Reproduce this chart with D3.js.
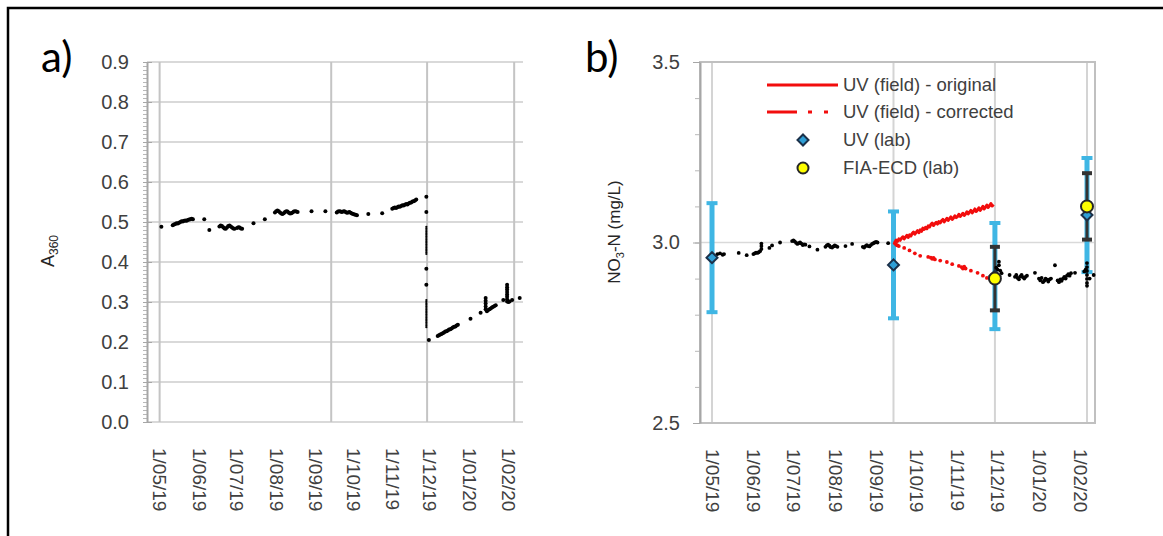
<!DOCTYPE html>
<html>
<head>
<meta charset="utf-8">
<script src="https://cdn.jsdelivr.net/npm/d3@7"></script>
<style>
body { margin: 0; background: #fff; }
text { font-family: "Liberation Sans", Arial, sans-serif; }
</style>
</head>
<body>
<svg width="1163" height="536"></svg>
<script>
// month ticks (same on both panels)
var monthTicks = ["2019-05-01","2019-06-01","2019-07-01","2019-08-01","2019-09-01",
  "2019-10-01","2019-11-01","2019-12-01","2020-01-01","2020-02-01"];
var samplingDates = ["2019-05-01","2019-09-14","2019-11-29","2020-02-06"];

// panel a: absorbance at 360 nm
var a360 = [
  ["2019-05-02",0.488],
  ["2019-05-11",0.492],["2019-05-12",0.494],["2019-05-13",0.495],["2019-05-14",0.497],["2019-05-15",0.496],
  ["2019-05-16",0.498],["2019-05-17",0.500],["2019-05-18",0.502],["2019-05-19",0.501],["2019-05-20",0.503],
  ["2019-05-21",0.504],["2019-05-22",0.503],["2019-05-23",0.505],["2019-05-24",0.506],["2019-05-25",0.507],
  ["2019-05-26",0.508],["2019-05-27",0.507],
  ["2019-06-05",0.507],["2019-06-09",0.480],
  ["2019-06-17",0.489],["2019-06-18",0.491],["2019-06-19",0.490],["2019-06-20",0.487],["2019-06-21",0.484],
  ["2019-06-22",0.483],["2019-06-23",0.486],["2019-06-24",0.490],["2019-06-25",0.491],["2019-06-26",0.489],
  ["2019-06-27",0.486],["2019-06-28",0.484],["2019-06-29",0.483],["2019-07-01",0.485],["2019-07-02",0.487],
  ["2019-07-03",0.486],["2019-07-04",0.484],["2019-07-05",0.483],
  ["2019-07-14",0.497],["2019-07-23",0.507],
  ["2019-07-31",0.524],["2019-08-01",0.527],["2019-08-02",0.529],["2019-08-03",0.527],["2019-08-04",0.524],
  ["2019-08-05",0.521],["2019-08-06",0.520],["2019-08-07",0.522],["2019-08-08",0.525],["2019-08-09",0.527],
  ["2019-08-10",0.526],["2019-08-11",0.523],["2019-08-12",0.521],["2019-08-13",0.522],["2019-08-14",0.524],
  ["2019-08-15",0.526],["2019-08-16",0.527],["2019-08-17",0.526],["2019-08-18",0.525],
  ["2019-08-29",0.527],["2019-09-09",0.527],
  ["2019-09-18",0.524],["2019-09-19",0.526],["2019-09-20",0.527],["2019-09-21",0.526],["2019-09-22",0.525],
  ["2019-09-23",0.526],["2019-09-24",0.527],["2019-09-25",0.525],["2019-09-26",0.523],["2019-09-27",0.524],
  ["2019-09-28",0.525],["2019-09-29",0.523],["2019-09-30",0.521],["2019-10-01",0.520],["2019-10-02",0.519],
  ["2019-10-03",0.518],["2019-10-04",0.517],
  ["2019-10-13",0.520],["2019-10-24",0.522],
  ["2019-11-01",0.533],["2019-11-02",0.535],["2019-11-03",0.536],["2019-11-04",0.535],["2019-11-05",0.537],
  ["2019-11-06",0.539],["2019-11-07",0.538],["2019-11-08",0.540],["2019-11-09",0.542],["2019-11-10",0.541],
  ["2019-11-11",0.543],["2019-11-12",0.545],["2019-11-13",0.544],["2019-11-14",0.546],["2019-11-15",0.548],
  ["2019-11-16",0.549],["2019-11-17",0.551],["2019-11-18",0.552],["2019-11-19",0.554],["2019-11-20",0.556],
  ["2019-11-28",0.563],["2019-11-28",0.525],["2019-11-28",0.383],["2019-11-28",0.343],
  ["2019-11-30",0.205],
  ["2019-12-07",0.215],["2019-12-08",0.217],["2019-12-09",0.219],["2019-12-10",0.220],["2019-12-11",0.222],
  ["2019-12-12",0.224],["2019-12-13",0.226],["2019-12-14",0.227],["2019-12-15",0.229],["2019-12-16",0.231],
  ["2019-12-17",0.232],["2019-12-18",0.234],["2019-12-19",0.236],["2019-12-20",0.238],["2019-12-21",0.239],
  ["2019-12-22",0.241],["2019-12-23",0.243],
  ["2020-01-02",0.258],["2020-01-10",0.273],
  ["2020-01-14",0.310],["2020-01-14",0.303],["2020-01-14",0.296],["2020-01-14",0.289],["2020-01-14",0.282],
  ["2020-01-15",0.277],["2020-01-16",0.280],["2020-01-17",0.282],["2020-01-18",0.284],["2020-01-19",0.286],
  ["2020-01-20",0.288],["2020-01-21",0.290],["2020-01-22",0.292],
  ["2020-01-28",0.305],
  ["2020-01-31",0.343],["2020-01-31",0.337],["2020-01-31",0.331],["2020-01-31",0.325],["2020-01-31",0.319],
  ["2020-01-31",0.313],["2020-01-31",0.307],["2020-01-31",0.301],["2020-02-01",0.300],["2020-02-02",0.301],
  ["2020-02-04",0.305],["2020-02-10",0.310]
];
// panel a: the fast step on 28 Nov (thin trace)
var a360Drop = [
  ["2019-11-28",0.488],["2019-11-28",0.484],["2019-11-28",0.480],["2019-11-28",0.476],["2019-11-28",0.472],
  ["2019-11-28",0.468],["2019-11-28",0.464],["2019-11-28",0.460],["2019-11-28",0.456],["2019-11-28",0.452],
  ["2019-11-28",0.448],["2019-11-28",0.444],["2019-11-28",0.440],["2019-11-28",0.436],["2019-11-28",0.432],
  ["2019-11-28",0.428],["2019-11-28",0.424],["2019-11-28",0.420],
  ["2019-11-28",0.305],["2019-11-28",0.301],["2019-11-28",0.297],["2019-11-28",0.293],["2019-11-28",0.289],
  ["2019-11-28",0.285],["2019-11-28",0.281],["2019-11-28",0.277],["2019-11-28",0.273],["2019-11-28",0.269],
  ["2019-11-28",0.265],["2019-11-28",0.261],["2019-11-28",0.257],["2019-11-28",0.253],["2019-11-28",0.249],
  ["2019-11-28",0.245],["2019-11-28",0.241],["2019-11-28",0.237]
];

// panel b: UV (field) before and after the drift period
var fieldBefore = [
  ["2019-05-03",2.962],["2019-05-05",2.968],["2019-05-07",2.970],["2019-05-09",2.966],["2019-05-10",2.968],
  ["2019-05-21",2.971],["2019-05-27",2.965],
  ["2019-06-01",2.968],["2019-06-02",2.970],["2019-06-03",2.972],["2019-06-04",2.971],["2019-06-05",2.973],
  ["2019-06-06",2.976],["2019-06-07",2.982],["2019-06-07",2.990],["2019-06-07",2.997],
  ["2019-06-13",2.985],["2019-06-15",2.992],["2019-06-21",3.000],
  ["2019-06-30",3.004],["2019-07-01",3.006],["2019-07-02",3.003],["2019-07-03",2.999],["2019-07-04",2.996],
  ["2019-07-05",2.998],["2019-07-06",3.000],["2019-07-07",2.997],["2019-07-08",2.993],["2019-07-09",2.995],
  ["2019-07-10",2.994],
  ["2019-07-13",2.989],["2019-07-19",2.980],
  ["2019-07-25",2.988],["2019-07-26",2.992],["2019-07-27",2.994],["2019-07-28",2.991],["2019-07-29",2.987],
  ["2019-07-30",2.986],["2019-07-31",2.989],["2019-08-01",2.992],["2019-08-02",2.990],["2019-08-03",2.988],
  ["2019-08-09",2.990],["2019-08-14",2.996],
  ["2019-08-22",2.988],["2019-08-23",2.986],["2019-08-24",2.990],["2019-08-25",2.993],["2019-08-26",2.990],
  ["2019-08-27",2.989],["2019-08-28",2.993],["2019-08-29",2.996],["2019-08-30",2.998],["2019-08-31",3.000],
  ["2019-09-01",3.002],["2019-09-02",3.000],
  ["2019-09-10",2.998]
];
var fieldAfter = [
  ["2019-11-30",2.930],["2019-12-01",2.925],["2019-12-02",2.947],["2019-12-02",2.937],["2019-12-03",2.922],
  ["2019-12-04",2.915],
  ["2019-12-10",2.910],
  ["2019-12-14",2.905],["2019-12-15",2.910],["2019-12-16",2.902],["2019-12-17",2.898],["2019-12-18",2.906],
  ["2019-12-19",2.910],["2019-12-20",2.904],["2019-12-21",2.900],["2019-12-22",2.905],["2019-12-23",2.908],
  ["2019-12-29",2.916],
  ["2020-01-01",2.900],["2020-01-02",2.895],["2020-01-03",2.902],["2020-01-04",2.890],["2020-01-05",2.894],
  ["2020-01-06",2.900],["2020-01-07",2.897],["2020-01-08",2.892],["2020-01-09",2.898],["2020-01-10",2.900],
  ["2020-01-13",2.937],
  ["2020-01-15",2.895],["2020-01-16",2.890],["2020-01-17",2.898],["2020-01-18",2.894],["2020-01-19",2.900],
  ["2020-01-20",2.905],["2020-01-21",2.900],["2020-01-22",2.908],["2020-01-23",2.912],["2020-01-24",2.908],
  ["2020-01-25",2.915],
  ["2020-01-28",2.916],
  ["2020-02-04",2.920],["2020-02-05",2.925],
  ["2020-02-06",2.943],["2020-02-06",2.932],["2020-02-06",2.921],["2020-02-06",2.910],["2020-02-06",2.899],
  ["2020-02-06",2.888],["2020-02-06",2.880],
  ["2020-02-08",2.900],["2020-02-11",2.910]
];
var uvOriginal = [
  ["2019-09-15",3.000],["2019-09-16",3.007],["2019-09-17",3.003],["2019-09-18",3.010],["2019-09-19",3.006],
  ["2019-09-20",3.012],["2019-09-21",3.016],["2019-09-22",3.010],["2019-09-23",3.015],["2019-09-24",3.020],
  ["2019-09-25",3.014],["2019-09-26",3.021],["2019-09-27",3.018],["2019-09-28",3.025],["2019-09-29",3.029],
  ["2019-09-30",3.023],["2019-10-01",3.028],["2019-10-02",3.033],["2019-10-03",3.027],["2019-10-04",3.035],
  ["2019-10-05",3.031],["2019-10-06",3.040],["2019-10-07",3.036],["2019-10-08",3.042],["2019-10-09",3.038],
  ["2019-10-10",3.046],["2019-10-11",3.043],["2019-10-12",3.050],["2019-10-13",3.054],["2019-10-14",3.047],
  ["2019-10-15",3.052],["2019-10-16",3.056],["2019-10-17",3.051],["2019-10-18",3.058],["2019-10-19",3.054],
  ["2019-10-20",3.060],["2019-10-21",3.064],["2019-10-22",3.057],["2019-10-23",3.062],["2019-10-24",3.067],
  ["2019-10-25",3.061],["2019-10-26",3.066],["2019-10-27",3.071],["2019-10-28",3.064],["2019-10-29",3.068],
  ["2019-10-30",3.074],["2019-10-31",3.069],["2019-11-01",3.072],["2019-11-02",3.078],["2019-11-03",3.072],
  ["2019-11-04",3.076],["2019-11-05",3.081],["2019-11-06",3.075],["2019-11-07",3.079],["2019-11-08",3.085],
  ["2019-11-09",3.079],["2019-11-10",3.084],["2019-11-11",3.089],["2019-11-12",3.082],["2019-11-13",3.087],
  ["2019-11-14",3.093],["2019-11-15",3.086],["2019-11-16",3.090],["2019-11-17",3.096],["2019-11-18",3.089],
  ["2019-11-19",3.094],["2019-11-20",3.100],["2019-11-21",3.093],["2019-11-22",3.098],["2019-11-23",3.104],
  ["2019-11-24",3.097],["2019-11-25",3.102],["2019-11-26",3.108],["2019-11-27",3.101],["2019-11-28",3.105]
];
var uvCorrected = [
  ["2019-09-15",2.998],["2019-09-16",2.994],["2019-09-17",2.992],["2019-09-18",2.990],["2019-09-22",2.985],
  ["2019-09-26",2.978],["2019-09-30",2.970],["2019-10-04",2.963],["2019-10-10",2.960],["2019-10-12",2.958],
  ["2019-10-13",2.955],["2019-10-14",2.957],["2019-10-15",2.953],["2019-10-19",2.950],["2019-10-24",2.946],
  ["2019-10-28",2.940],["2019-11-02",2.935],["2019-11-04",2.932],["2019-11-05",2.928],["2019-11-06",2.933],
  ["2019-11-07",2.928],["2019-11-11",2.922],["2019-11-16",2.916],["2019-11-20",2.908],["2019-11-23",2.902],
  ["2019-11-26",2.900]
];
// lab samples
var uvLab = [2.958, 2.938, 2.907, 3.076];
var uvLabErr = [0.151, 0.148, 0.147, 0.158];
var fiaDates = ["2019-11-29","2020-02-06"];
var fiaLab = [2.90, 3.10];
var fiaErr = [0.088, 0.092];

var parse = d3.timeParse("%Y-%m-%d");
var fmtMonth = d3.timeFormat("1/%m/%y");
var months = monthTicks.map(parse);
var samples = samplingDates.map(parse);

var svg = d3.select("svg");
var red = "#f20d0d", cyan = "#3fb6e4", gridCol = "#d9d9d9", axisCol = "#a6a6a6";

// outer frame
svg.append("path")
  .attr("d", "M8,540V8H1170")
  .attr("fill", "none")
  .attr("stroke", "#000")
  .attr("stroke-width", 2.5);

function xAxisLabels(g, x, y0) {
  g.attr("transform", "translate(0," + y0 + ")")
    .call(d3.axisBottom(x).tickValues(months).tickSize(0).tickFormat(fmtMonth));
  g.select(".domain").remove();
  g.selectAll("text")
    .attr("transform", "rotate(90)")
    .attr("x", 26)
    .attr("y", 0)
    .attr("dy", "0.35em")
    .style("text-anchor", "start")
    .style("font-size", "19px")
    .style("font-family", "'Liberation Sans', Arial, sans-serif")
    .attr("fill", "#404040");
}

// ---------- panel a ----------
var xa = d3.scaleTime().domain([new Date(2019, 3, 21), new Date(2020, 1, 13)]).range([147, 523]);
var ya = d3.scaleLinear().domain([0, 0.9]).range([422, 62]);

var ga = svg.append("g");
ga.selectAll(".hgrid")
  .data(ya.ticks(9))
  .enter()
  .append("line")
  .attr("x1", 147).attr("x2", 523)
  .attr("y1", (d) => ya(d)).attr("y2", (d) => ya(d))
  .attr("stroke", gridCol).attr("stroke-width", 2);
ga.selectAll(".vgrid")
  .data(samples)
  .enter()
  .append("line")
  .attr("x1", (d) => xa(d)).attr("x2", (d) => xa(d))
  .attr("y1", 62).attr("y2", 422)
  .attr("stroke", "#c4c4c4").attr("stroke-width", 2);

// minor ticks
var aMinor = ga.append("g").attr("transform", "translate(147,0)")
  .call(d3.axisLeft(ya).tickValues(d3.range(0, 0.9001, 0.01)).tickSize(4).tickFormat(""));
aMinor.select(".domain").remove();
aMinor.selectAll("line").attr("stroke", "#b8b8b8");

var aAxis = ga.append("g").attr("transform", "translate(147,0)")
  .call(d3.axisLeft(ya).tickValues(ya.ticks(9)).tickSize(4).tickSizeOuter(0).tickPadding(14).tickFormat(d3.format(".1f")));
aAxis.select(".domain").attr("stroke", axisCol).attr("stroke-width", 2);
aAxis.selectAll("line").attr("x2", -4).attr("x1", 5).attr("stroke", axisCol);
aAxis.selectAll("text").style("font-size", "20px").attr("fill", "#404040");

xAxisLabels(ga.append("g"), xa, 422);

ga.selectAll(".pt")
  .data(a360)
  .enter()
  .append("circle")
  .attr("cx", (d) => xa(parse(d[0])) + 0.5)
  .attr("cy", (d) => ya(d[1]))
  .attr("r", 2)
  .attr("fill", "#000");
ga.selectAll(".drop")
  .data(a360Drop)
  .enter()
  .append("circle")
  .attr("cx", (d) => xa(parse(d[0])) + 0.5)
  .attr("cy", (d) => ya(d[1]))
  .attr("r", 1.1)
  .attr("fill", "#000");

var aTitle = ga.append("text")
  .attr("transform", "translate(54,251) rotate(-90)")
  .attr("text-anchor", "middle")
  .style("font-size", "18px")
  .attr("fill", "#262626");
aTitle.append("tspan").text("A");
aTitle.append("tspan").attr("dy", 4).style("font-size", "12px").text("360");

ga.append("text")
  .attr("x", 41).attr("y", 72)
  .style("font-family", "Lato, 'Open Sans', sans-serif")
  .style("font-size", "42px")
  .attr("fill", "#000")
  .text("a)");

// ---------- panel b ----------
var xb = d3.scaleTime().domain([new Date(2019, 3, 22), new Date(2020, 1, 12)]).range([700, 1095]);
var yb = d3.scaleLinear().domain([2.5, 3.5]).range([423, 62]);

var gb = svg.append("g");
gb.append("line")
  .attr("x1", 700).attr("x2", 1095)
  .attr("y1", yb(3.0)).attr("y2", yb(3.0))
  .attr("stroke", gridCol).attr("stroke-width", 1.5);
gb.selectAll(".vgrid")
  .data(samples)
  .enter()
  .append("line")
  .attr("x1", (d) => xb(d)).attr("x2", (d) => xb(d))
  .attr("y1", 62).attr("y2", 423)
  .attr("stroke", "#d4d4d4").attr("stroke-width", 2);
gb.append("rect")
  .attr("x", 700).attr("y", 62)
  .attr("width", 395).attr("height", 361)
  .attr("fill", "none")
  .attr("stroke", "#c0c0c0").attr("stroke-width", 2);

var bMinor = gb.append("g").attr("transform", "translate(700,0)")
  .call(d3.axisLeft(yb).tickValues(d3.range(2.5, 3.5001, 0.1)).tickSize(5).tickFormat(""));
bMinor.select(".domain").remove();
bMinor.selectAll("line").attr("stroke", "#b8b8b8");

var bAxis = gb.append("g").attr("transform", "translate(700,0)")
  .call(d3.axisLeft(yb).tickValues([2.5, 3.0, 3.5]).tickSize(7).tickSizeOuter(0).tickPadding(13).tickFormat(d3.format(".1f")));
bAxis.select(".domain").attr("stroke", axisCol).attr("stroke-width", 2);
bAxis.selectAll("line").attr("stroke", axisCol);
bAxis.selectAll("text").style("font-size", "20px").attr("fill", "#404040");

xAxisLabels(gb.append("g"), xb, 423);

// error bars
function errBars(g, dates, vals, errs, col, w, capW) {
  var e = g.selectAll(null)
    .data(vals)
    .enter()
    .append("g")
    .attr("transform", (d, i) => "translate(" + xb(parse(dates[i])) + ",0)");
  e.append("line")
    .attr("y1", (d, i) => yb(d + errs[i])).attr("y2", (d, i) => yb(d - errs[i]))
    .attr("stroke", col).attr("stroke-width", w);
  e.append("line")
    .attr("x1", -capW / 2).attr("x2", capW / 2)
    .attr("y1", (d, i) => yb(d + errs[i])).attr("y2", (d, i) => yb(d + errs[i]))
    .attr("stroke", col).attr("stroke-width", 4);
  e.append("line")
    .attr("x1", -capW / 2).attr("x2", capW / 2)
    .attr("y1", (d, i) => yb(d - errs[i])).attr("y2", (d, i) => yb(d - errs[i]))
    .attr("stroke", col).attr("stroke-width", 4);
}
errBars(gb, samplingDates, uvLab, uvLabErr, cyan, 5, 11);
errBars(gb, fiaDates, fiaLab, fiaErr, "#333", 3, 10);

gb.selectAll(".fb")
  .data(fieldBefore.concat(fieldAfter))
  .enter()
  .append("circle")
  .attr("cx", (d) => xb(parse(d[0])))
  .attr("cy", (d) => yb(d[1]))
  .attr("r", 1.9)
  .attr("fill", "#000");

var line = d3.line()
  .x((d) => xb(parse(d[0])))
  .y((d) => yb(d[1]));
gb.append("path")
  .datum(uvOriginal)
  .attr("d", line)
  .attr("fill", "none")
  .attr("stroke", red)
  .attr("stroke-width", 3)
  .attr("stroke-linejoin", "round");

gb.selectAll(".corr")
  .data(uvCorrected)
  .enter()
  .append("circle")
  .attr("cx", (d) => xb(parse(d[0])))
  .attr("cy", (d) => yb(d[1]))
  .attr("r", 1.9)
  .attr("fill", red);

var diamond = "M0,-5.5L5.5,0L0,5.5L-5.5,0Z";
gb.selectAll(".uvlab")
  .data(uvLab)
  .enter()
  .append("path")
  .attr("d", diamond)
  .attr("transform", (d, i) => "translate(" + xb(samples[i]) + "," + yb(d) + ")")
  .attr("fill", "#2f9fd6")
  .attr("stroke", "#1b3049")
  .attr("stroke-width", 2);

gb.selectAll(".fia")
  .data(fiaLab)
  .enter()
  .append("circle")
  .attr("cx", (d, i) => xb(parse(fiaDates[i])))
  .attr("cy", (d) => yb(d))
  .attr("r", 6)
  .attr("fill", "#ffff00")
  .attr("stroke", "#262626")
  .attr("stroke-width", 2);

// legend
var legend = gb.append("g").attr("transform", "translate(767,0)");
var legendRows = ["UV (field) - original", "UV (field) - corrected", "UV (lab)", "FIA-ECD (lab)"];
var legendY = [85, 112, 140, 168];
legend.append("line")
  .attr("x1", 0).attr("x2", 71).attr("y1", legendY[0]).attr("y2", legendY[0])
  .attr("stroke", red).attr("stroke-width", 3);
legend.append("line")
  .attr("x1", 0).attr("x2", 71).attr("y1", legendY[1]).attr("y2", legendY[1])
  .attr("stroke", red).attr("stroke-width", 3)
  .attr("stroke-dasharray", "30,11,4,12,4,100");
legend.append("path")
  .attr("d", diamond)
  .attr("transform", "translate(36," + legendY[2] + ")")
  .attr("fill", "#2f9fd6").attr("stroke", "#1b3049").attr("stroke-width", 2);
legend.append("circle")
  .attr("cx", 36).attr("cy", legendY[3]).attr("r", 5.5)
  .attr("fill", "#ffff00").attr("stroke", "#262626").attr("stroke-width", 2);
legend.selectAll(".lt")
  .data(legendRows)
  .enter()
  .append("text")
  .attr("x", 76)
  .attr("y", (d, i) => legendY[i])
  .attr("dy", "0.35em")
  .style("font-size", "18.5px")
  .attr("fill", "#404040")
  .text((d) => d);

var bTitle = gb.append("text")
  .attr("transform", "translate(620,232) rotate(-90)")
  .attr("text-anchor", "middle")
  .style("font-size", "17px")
  .attr("fill", "#262626");
bTitle.append("tspan").text("NO");
bTitle.append("tspan").attr("dy", 4).style("font-size", "11px").text("3");
bTitle.append("tspan").attr("dy", -4).text("-N  (mg/L)");

gb.append("text")
  .attr("x", 585).attr("y", 72)
  .style("font-family", "Lato, 'Open Sans', sans-serif")
  .style("font-size", "42px")
  .attr("fill", "#000")
  .text("b)");
</script>
</body>
</html>
